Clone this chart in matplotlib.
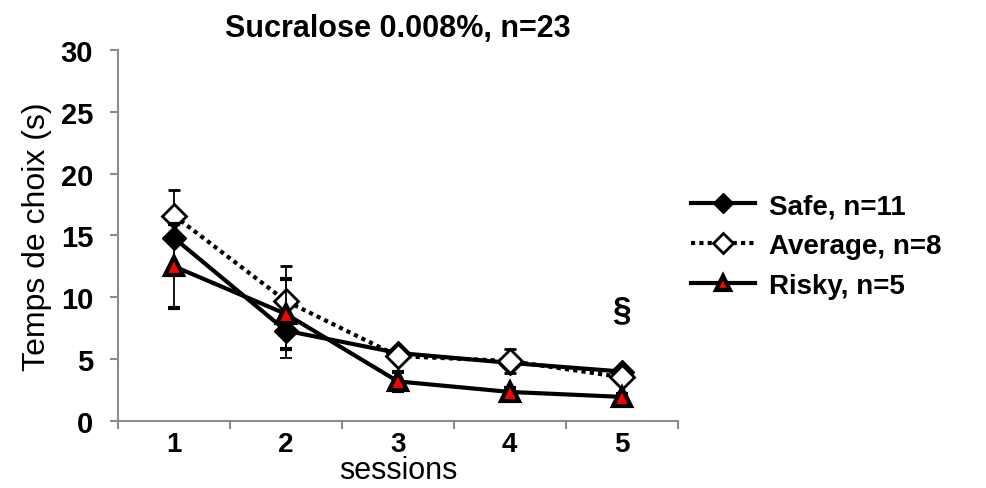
import numpy as np
import matplotlib.pyplot as plt
from matplotlib.lines import Line2D

plt.rcParams['font.family'] = ['Liberation Sans', 'DejaVu Sans']

# данные: время выбора по сессиям
sessions = [1, 2, 3, 4, 5]
safe = [14.8, 7.3, 5.5, 4.7, 4.0]
safe_err = [0.0, 2.2, 0.3, 0.3, 0.2]
average = [16.6, 9.7, 5.25, 4.85, 3.55]
average_err = [2.1, 2.8, 0.3, 1.0, 0.3]
risky = [12.5, 8.65, 3.2, 2.35, 1.95]
risky_err = [3.4, 2.8, 0.8, 0.3, 0.2]

title = 'Sucralose 0.008%, n=23'
labels = ['Safe, n=11', 'Average, n=8', 'Risky, n=5']

fig = plt.figure(figsize=(9.87, 4.89), dpi=100)
ax = fig.add_axes([0.1196, 0.137, 0.567, 0.759])

# стили серий
st_safe = dict(color='black', lw=3, marker='D', ms=12)
st_avg = dict(color='black', lw=3, ls=(0, (1, 1)), marker='D', ms=12,
              mfc='white', mec='black', mew=2)
st_risky = dict(color='black', lw=3, marker='^', ms=13, mfc='red', mec='black', mew=3)
eb = dict(ecolor='black', elinewidth=1.3, capsize=4, capthick=1.3)

ax.errorbar(sessions, safe, yerr=safe_err, zorder=3, **st_safe, **eb)
ax.errorbar(sessions, average, yerr=average_err, zorder=4, **st_avg, **eb)
ax.errorbar(sessions, risky, yerr=risky_err, zorder=5, **st_risky, **eb)

ax.set_xlim(0.5, 5.5)
ax.set_ylim(0, 30)
ax.set_yticks(np.arange(0, 31, 5))
ax.set_xticks(sessions)
ax.set_xticks(np.arange(0.5, 5.6, 1), minor=True)
ax.tick_params(axis='x', which='major', length=0, labelsize=20, pad=7)
ax.tick_params(axis='x', which='minor', length=6, color='#8c8c8c', width=1.5)
ax.tick_params(axis='y', length=6, color='#8c8c8c', width=1.5, labelsize=21, pad=12)
for t in ax.get_xticklabels() + ax.get_yticklabels():
    t.set_fontweight('bold')

for s in ['top', 'right']:
    ax.spines[s].set_visible(False)
for s in ['left', 'bottom']:
    ax.spines[s].set_color('#8c8c8c')
    ax.spines[s].set_linewidth(1.5)

ax.set_title(title, fontsize=22, fontweight='bold', pad=10)
ax.set_xlabel('sessions', fontsize=22, labelpad=-1)
ax.set_ylabel('Temps de choix (s)', fontsize=23, labelpad=6)

ax.text(5, 9.0, '§', fontsize=24, fontweight='bold', ha='center', va='center')

# легенда справа от графика
handles = [Line2D([], [], **{**st_safe, 'ms': 10}),
           Line2D([], [], **{**st_avg, 'ms': 10}),
           Line2D([], [], **{**st_risky, 'ms': 10})]
fig.legend(handles, labels, loc='center left', bbox_to_anchor=(0.683, 0.495),
           frameon=False, prop={'size': 20, 'weight': 'bold'}, handlelength=2.3,
           labelspacing=0.5, handletextpad=0.5, borderaxespad=0.2)

plt.savefig('out.png', dpi=100)
